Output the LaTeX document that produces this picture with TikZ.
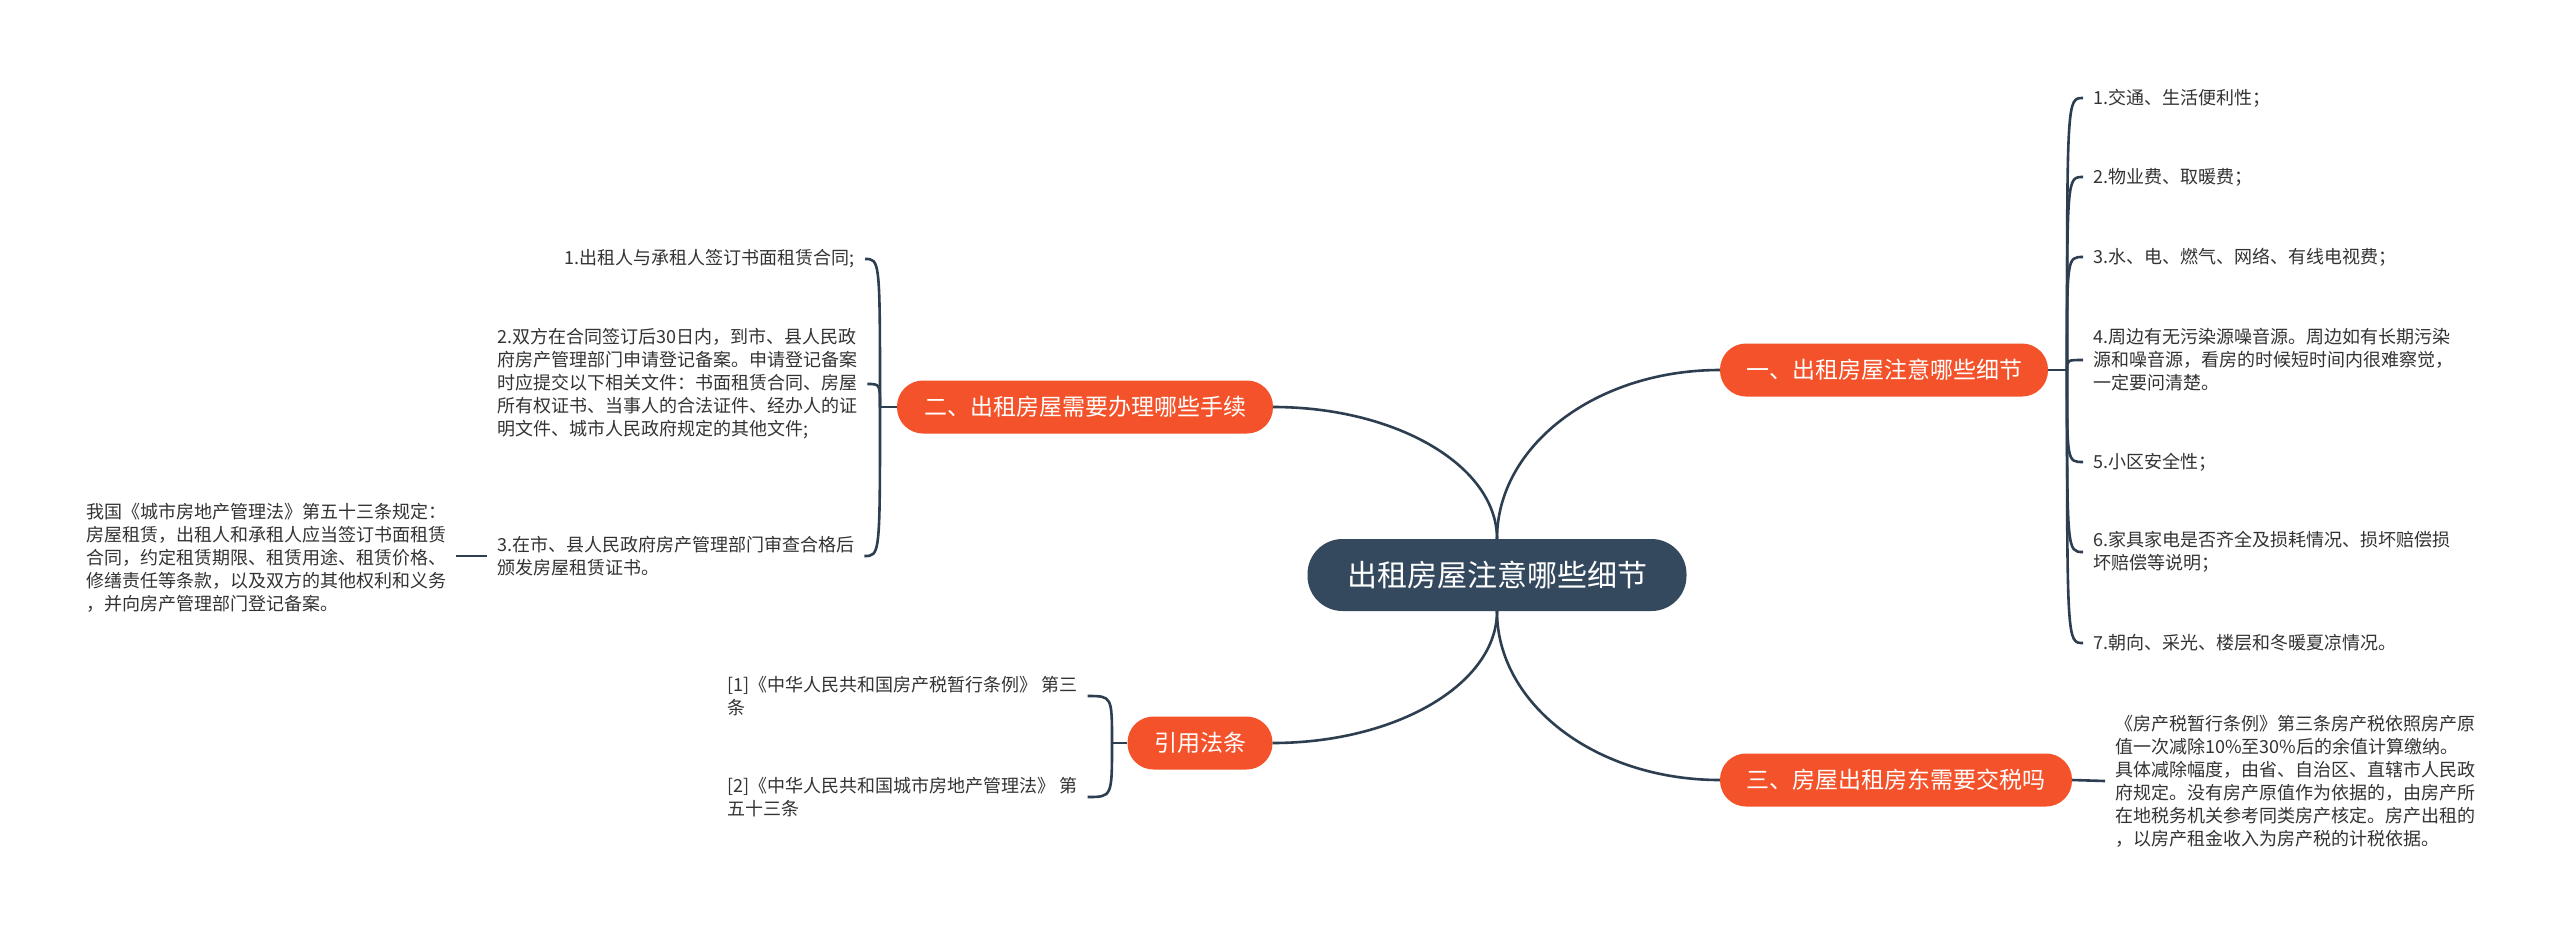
\documentclass[tikz,border=0pt]{standalone}
\usepackage{fontspec}
\newfontfamily\cjk{Noto Sans CJK SC}
\definecolor{orangec}{HTML}{F3522A}
\definecolor{rootc}{HTML}{34495E}
\definecolor{linec}{HTML}{2C3E50}
\definecolor{textc}{HTML}{333333}
\begin{document}
\begin{tikzpicture}[x=1pt,y=-1pt,
  conn/.style={draw=linec, line width=2.6pt},
  leaf/.style={font=\cjk\fontsize{18}{23}\selectfont, text=textc, align=left, inner xsep=10pt, inner ysep=0pt},
  leafr/.style={leaf, align=right},
  topic/.style={font=\cjk\fontsize{23}{28}\selectfont, fill=orangec, text=white, rounded corners=26pt, minimum height=53pt, inner sep=0pt},
  root/.style={font=\cjk\fontsize{30}{36}\selectfont, fill=rootc, text=white, rounded corners=35pt, minimum height=72pt, minimum width=379pt, inner sep=0pt}]
\useasboundingbox (0,0) rectangle (2560,935);
\fill[white] (0,0) rectangle (2560,935);

% main nodes
\node[root] (root) at (1497,575) {出租房屋注意哪些细节};
\node[topic, minimum width=328pt] (t1) at (1884,370) {一、出租房屋注意哪些细节};
\node[topic, minimum width=376pt] (t2) at (1085,407) {二、出租房屋需要办理哪些手续};
\node[topic, minimum width=352pt] (t3) at (1896,780) {三、房屋出租房东需要交税吗};
\node[topic, minimum width=145pt] (t4) at (1200,743) {引用法条};

% main connectors
\draw[conn] (root.north) .. controls +(0,-93) and +(-124,0) .. (t1.west);
\draw[conn] (root.north) .. controls +(0,-73) and +(123,0) .. (t2.east);
\draw[conn] (root.south) .. controls +(0,93) and +(-124,0) .. (t3.west);
\draw[conn] (root.south) .. controls +(0,73) and +(123,0) .. (t4.east);

% branch 1 leaves
\coordinate (j1) at (2067,370);
\node[leaf, anchor=west] (a1) at (2083,98) {1.交通、生活便利性；};
\node[leaf, anchor=west] (a2) at (2083,177) {2.物业费、取暖费；};
\node[leaf, anchor=west] (a3) at (2083,257) {3.水、电、燃气、网络、有线电视费；};
\node[leaf, anchor=west] (a4) at (2083,360) {4.周边有无污染源噪音源。周边如有长期污染\\源和噪音源，看房的时候短时间内很难察觉，\\一定要问清楚。};
\node[leaf, anchor=west] (a5) at (2083,462) {5.小区安全性；};
\node[leaf, anchor=west] (a6) at (2083,552) {6.家具家电是否齐全及损耗情况、损坏赔偿损\\坏赔偿等说明；};
\node[leaf, anchor=west] (a7) at (2083,643) {7.朝向、采光、楼层和冬暖夏凉情况。};
\draw[conn] (t1.east) -- (j1);
\foreach \n in {a1,a2,a3,a4,a5,a6,a7}
  \draw[conn] (j1) .. controls (j1 |- \n.west) .. (\n.west);

% branch 2 leaves
\coordinate (j2) at (880,407);
\node[leafr, anchor=east] (b1) at (865,259) {1.出租人与承租人签订书面租赁合同;};
\node[leaf, anchor=west] (b2) at (487,384) {2.双方在合同签订后30日内，到市、县人民政\\府房产管理部门申请登记备案。申请登记备案\\时应提交以下相关文件：书面租赁合同、房屋\\所有权证书、当事人的合法证件、经办人的证\\明文件、城市人民政府规定的其他文件;};
\node[leaf, anchor=west] (b3) at (487,556) {3.在市、县人民政府房产管理部门审查合格后\\颁发房屋租赁证书。};
\node[leaf, anchor=west] (note) at (76,558) {我国《城市房地产管理法》第五十三条规定：\\房屋租赁，出租人和承租人应当签订书面租赁\\合同，约定租赁期限、租赁用途、租赁价格、\\修缮责任等条款，以及双方的其他权利和义务\\，并向房产管理部门登记备案。};
\draw[conn] (t2.west) -- (j2);
\foreach \n in {b1,b2,b3}
  \draw[conn] (j2) .. controls (j2 |- \n.east) .. (\n.east);
\draw[conn] (b3.west) -- (note.east |- b3.west);

% branch 3 leaf
\node[leaf, anchor=west] (c1) at (2105,781) {《房产税暂行条例》第三条房产税依照房产原\\值一次减除10\%至30\%后的余值计算缴纳。\\具体减除幅度，由省、自治区、直辖市人民政\\府规定。没有房产原值作为依据的，由房产所\\在地税务机关参考同类房产核定。房产出租的\\，以房产租金收入为房产税的计税依据。};
\draw[conn] (t3.east) -- (c1.west);

% branch 4 leaves
\coordinate (j4) at (1112,743);
\node[leaf, anchor=west] (d1) at (717,696) {[1]《中华人民共和国房产税暂行条例》 第三\\条};
\node[leaf, anchor=west] (d2) at (717,797) {[2]《中华人民共和国城市房地产管理法》 第\\五十三条};
\draw[conn] (t4.west) -- (j4);
\foreach \n in {d1,d2}
  \draw[conn] (j4) .. controls (j4 |- \n.east) .. (\n.east);
\end{tikzpicture}
\end{document}
